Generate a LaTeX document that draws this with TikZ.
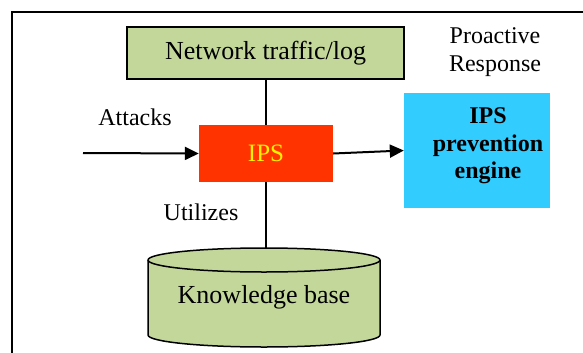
\documentclass[tikz,border=0pt]{standalone}
\usepackage{fontspec}
\setmainfont{Liberation Serif}
\usetikzlibrary{arrows.meta}
\definecolor{boxgreen}{RGB}{196,215,155}
\definecolor{ipsred}{RGB}{255,51,0}
\definecolor{engineblue}{RGB}{51,204,255}
\tikzset{
  box/.style={draw=black, line width=1.5pt, fill=boxgreen, inner sep=0pt},
  plain/.style={inner sep=0pt, font=\fontsize{24}{28}\selectfont, align=center},
  link/.style={draw=black, line width=1.6pt},
  flow/.style={draw=black, line width=2pt, -{Triangle[length=14pt,width=13pt]}},
}
\begin{document}
\begin{tikzpicture}[x=1pt,y=1pt]
\useasboundingbox (0,0) rectangle (583,-353);
% page frame (top and left edges)
\draw[line width=2pt] (583,-12) -- (12,-12) -- (12,-353);

% nodes
\node[box, minimum width=277pt, minimum height=52pt,
      font=\fontsize{26}{30}\selectfont] (net) at (265.5,-53) {Network traffic/log};
\node[fill=ipsred, minimum width=134pt, minimum height=57pt, inner sep=0pt,
      text=yellow, font=\fontsize{25}{30}\selectfont] (ips) at (266,-153.5) {IPS};
\node[fill=engineblue, minimum width=146pt, minimum height=115pt, inner sep=0pt]
      (engine) at (477,-150.5) {};
\node[inner sep=0pt, align=center, font=\fontsize{24}{27.5}\selectfont\bfseries]
      (enginetext) at (488,-146) {IPS\\prevention\\engine};
\node[plain] (proactive) at (495,-52) {Proactive\\Response};
\node[plain, anchor=base] (attacks) at (135,-125) {Attacks};
\node[plain, anchor=base] (utilizes) at (201,-220) {Utilizes};

% knowledge base cylinder
\draw[line width=1.5pt, fill=boxgreen]
  (148,-260) -- (148,-335) arc (180:360:116pt and 12pt) -- (380,-260)
  arc (0:180:116pt and 12pt) -- cycle;
\draw[line width=1.5pt] (148,-260) arc (180:360:116pt and 12pt);
\coordinate (kbtop) at (266,-248);
\node[inner sep=0pt, font=\fontsize{26}{30}\selectfont] (kb) at (264,-297) {Knowledge base};

% connectors
\coordinate (attsrc) at (83,-153);
\draw[link] (net.south -| ips.north) -- (ips.north);
\draw[link] (ips.south) -- (kbtop);
\draw[flow] (attsrc) -- (ips.west);
\draw[flow] (ips.east) -- (engine.west);
\end{tikzpicture}
\end{document}
